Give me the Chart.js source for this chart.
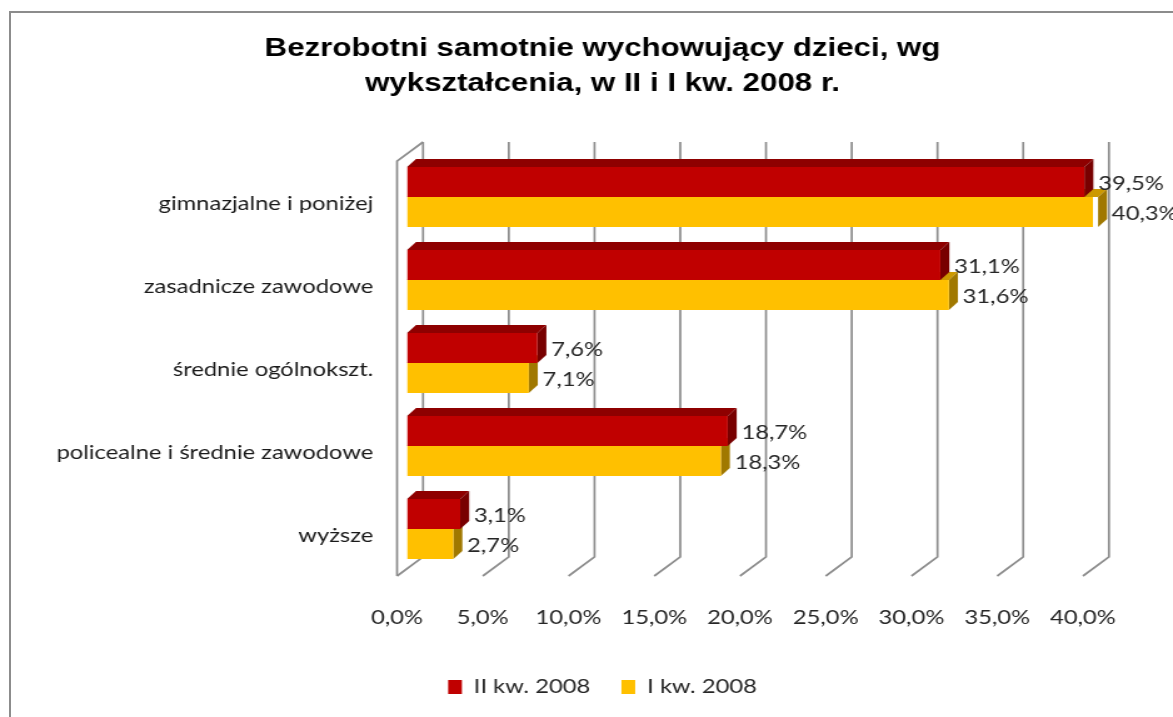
<!DOCTYPE html>
<html>
<head>
<meta charset="utf-8">
<script src="https://cdn.jsdelivr.net/npm/chart.js@4.4.1/dist/chart.umd.min.js"></script>
<style>
  html, body { margin: 0; padding: 0; background: #fff; overflow: hidden; }
  #frame {
    position: absolute; left: 9px; top: 11px; width: 1300px; height: 800px;
    border-left: 2px solid #8c8c8c; border-top: 2px solid #8c8c8c;
  }
  /* the reference picture is stretched sideways, so the chart is drawn narrower and widened */
  #wrap {
    position: absolute; left: 0; top: 0; width: 938px; height: 717px;
    transform: scaleX(1.2505); transform-origin: 0 0;
  }
</style>
</head>
<body>
<div id="frame"></div>
<div id="wrap"><canvas id="chart"></canvas></div>
<script>
const categories = ['gimnazjalne i poniżej', 'zasadnicze zawodowe', 'średnie ogólnokszt.', 'policealne i średnie zawodowe', 'wyższe'];
const seriesNames = ['II kw. 2008', 'I kw. 2008'];
const q2Values = [39.5, 31.1, 7.6, 18.7, 3.1];
const q1Values = [40.3, 31.6, 7.1, 18.3, 2.7];
const xTicks = [0, 5, 10, 15, 20, 25, 30, 35, 40];
const titleLines = ['Bezrobotni samotnie wychowujący dzieci, wg', 'wykształcenia, w II i I kw. 2008 r.'];

const fronts = ['#c00000', '#ffc000'];
const tops = ['#8e0000', '#cc9900'];
const sides = ['#780000', '#a07800'];
const gridColor = '#8c8c8c';
const textSize = 19;

// 3d offsets, relative to the plane the bars' front faces sit in
const barDx = 7.2, barDy = -8;
const backDx = 12.8, backDy = -13.5;
const floorDx = -20.8, floorDy = 19;

const fmt = v => v.toFixed(1).replace('.', ',') + '%';

Chart.defaults.font.family = 'Lato';

const fake3d = {
  id: 'fake3d',
  afterLayout(chart) {
    // long category labels run past the axis box, do not clip them
    chart.scales.y.left = 0;
  },
  beforeDatasetsDraw(chart) {
    const { ctx, chartArea, scales: { x } } = chart;
    const top = chartArea.top + backDy;
    const bottom = chartArea.bottom + backDy;
    ctx.save();
    ctx.strokeStyle = gridColor;
    ctx.lineWidth = 1.7;
    xTicks.forEach(v => {
      const bx = x.getPixelForValue(v) + backDx;
      ctx.beginPath();
      ctx.moveTo(bx, top);
      ctx.lineTo(bx, bottom);
      ctx.lineTo(bx + floorDx, bottom + floorDy);
      ctx.stroke();
    });
    // left wall
    const wx = x.getPixelForValue(0) + backDx;
    ctx.beginPath();
    ctx.moveTo(wx, top);
    ctx.lineTo(wx + floorDx, top + floorDy);
    ctx.lineTo(wx + floorDx, bottom + floorDy);
    ctx.stroke();

    // top and side faces, lower series first so the upper one covers it
    for (let d = chart.data.datasets.length - 1; d >= 0; d--) {
      chart.getDatasetMeta(d).data.forEach(bar => {
        const { x: end, y, base, height } = bar.getProps(['x', 'y', 'base', 'height'], true);
        const t = y - height / 2, b = y + height / 2;
        ctx.fillStyle = tops[d];
        ctx.beginPath();
        ctx.moveTo(base, t);
        ctx.lineTo(base + barDx, t + barDy);
        ctx.lineTo(end + barDx, t + barDy);
        ctx.lineTo(end, t);
        ctx.closePath();
        ctx.fill();
        ctx.fillStyle = sides[d];
        ctx.beginPath();
        ctx.moveTo(end, t);
        ctx.lineTo(end + barDx, t + barDy);
        ctx.lineTo(end + barDx, b + barDy);
        ctx.lineTo(end, b);
        ctx.closePath();
        ctx.fill();
      });
    }
    ctx.restore();
  },
  afterDatasetsDraw(chart) {
    const { ctx } = chart;
    ctx.save();
    ctx.font = textSize + 'px Lato';
    ctx.fillStyle = '#262626';
    ctx.textAlign = 'left';
    ctx.textBaseline = 'middle';
    chart.data.datasets.forEach((ds, d) => {
      chart.getDatasetMeta(d).data.forEach((bar, i) => {
        const { x, y } = bar.getProps(['x', 'y'], true);
        ctx.fillText(fmt(ds.data[i]), x + 11, y + 2);
      });
    });
    ctx.restore();
  }
};

const chartLeft = 325.5;
const padLeft = 89.6;

new Chart(document.getElementById('chart'), {
  type: 'bar',
  data: {
    labels: categories,
    datasets: [
      { label: seriesNames[0], data: q2Values, backgroundColor: fronts[0] },
      { label: seriesNames[1], data: q1Values, backgroundColor: fronts[1] }
    ]
  },
  options: {
    indexAxis: 'y',
    responsive: true,
    maintainAspectRatio: false,
    animation: false,
    layout: { padding: { left: padLeft, right: 64, top: 0, bottom: 10.5 } },
    datasets: { bar: { barPercentage: 1, categoryPercentage: 60 / 83, borderWidth: 0 } },
    scales: {
      x: {
        min: 0,
        max: 40,
        grid: { display: false, drawTicks: false },
        border: { display: false },
        afterBuildTicks: scale => { scale.ticks = xTicks.map(v => ({ value: v })); },
        afterFit: scale => { scale.height = 82; },
        ticks: {
          padding: 36,
          labelOffset: -8,
          color: '#262626',
          font: { size: textSize },
          callback: v => fmt(v)
        }
      },
      y: {
        grid: { display: false, drawTicks: false },
        border: { display: false },
        afterFit: scale => { scale.width = chartLeft - padLeft; },
        ticks: {
          padding: 27,
          labelOffset: 7,
          color: '#1a1a1a',
          font: { size: textSize }
        }
      }
    },
    plugins: {
      title: {
        display: true,
        text: titleLines,
        color: '#000',
        font: { family: 'Liberation Sans', weight: 'bold', size: 25, lineHeight: 1.4 },
        padding: { top: 31.5, bottom: 54 }
      },
      legend: {
        position: 'bottom',
        labels: {
          boxWidth: 11,
          boxHeight: 14,
          padding: 25,
          color: '#262626',
          font: { size: textSize }
        }
      },
      tooltip: { enabled: false }
    }
  },
  plugins: [fake3d]
});
</script>
</body>
</html>
